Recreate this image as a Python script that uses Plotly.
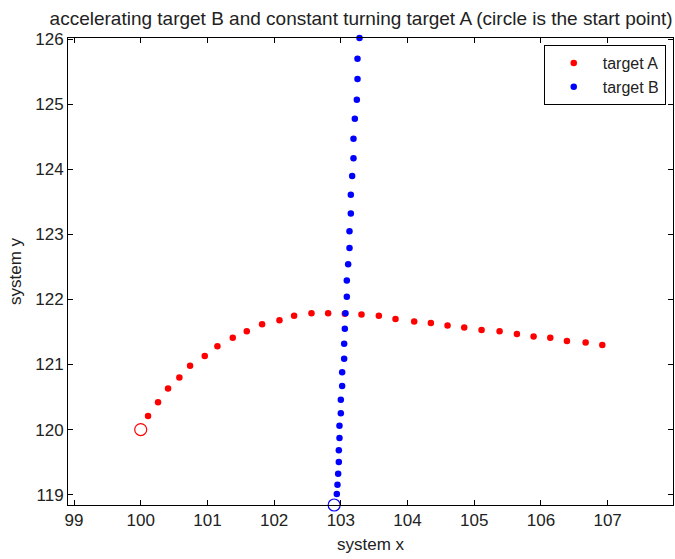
import plotly.graph_objects as go

# Target A: constant-turn track (x, y)
a_x = [100.00, 100.11, 100.26, 100.41, 100.58, 100.74, 100.96, 101.15, 101.38, 101.59,
       101.82, 102.08, 102.30, 102.56, 102.81, 103.06, 103.31, 103.57, 103.82, 104.10,
       104.35, 104.60, 104.85, 105.11, 105.38, 105.64, 105.89, 106.14, 106.39, 106.67,
       106.92]
a_y = [120.00, 120.21, 120.42, 120.63, 120.80, 120.98, 121.13, 121.28, 121.41, 121.51,
       121.62, 121.68, 121.75, 121.79, 121.79, 121.78, 121.77, 121.75, 121.70, 121.66,
       121.64, 121.60, 121.57, 121.53, 121.51, 121.47, 121.43, 121.41, 121.36, 121.34,
       121.30]

# Target B: accelerating track (x, y)
b_x = [102.90, 102.94, 102.95, 102.96, 102.97, 102.97, 102.98, 102.98, 103.00, 103.00,
       103.02, 103.02, 103.05, 103.05, 103.06, 103.07, 103.09, 103.09, 103.11, 103.13,
       103.13, 103.15, 103.15, 103.17, 103.19, 103.19, 103.21, 103.24, 103.25, 103.25,
       103.28]
b_y = [118.84, 119.01, 119.15, 119.32, 119.50, 119.68, 119.87, 120.06, 120.25, 120.46,
       120.67, 120.88, 121.09, 121.32, 121.55, 121.79, 122.04, 122.29, 122.54, 122.79,
       123.05, 123.32, 123.61, 123.90, 124.17, 124.47, 124.78, 125.07, 125.39, 125.70,
       126.02]

x_ticks = [99, 100, 101, 102, 103, 104, 105, 106, 107]
y_ticks = [119, 120, 121, 122, 123, 124, 125, 126]

FONT = "Liberation Sans, Arial, sans-serif"
RED = "rgb(255,0,0)"
BLUE = "rgb(0,0,255)"

fig = go.Figure()

fig.add_trace(go.Scatter(
    x=a_x[1:], y=a_y[1:], mode="markers", name="target A",
    marker=dict(symbol="circle", size=6.5, color=RED), cliponaxis=False,
))
fig.add_trace(go.Scatter(
    x=b_x[1:], y=b_y[1:], mode="markers", name="target B",
    marker=dict(symbol="circle", size=6.5, color=BLUE), cliponaxis=False,
))
# start points drawn as open circles
fig.add_trace(go.Scatter(
    x=[a_x[0]], y=[a_y[0]], mode="markers", showlegend=False,
    marker=dict(symbol="circle-open", size=12, color=RED, line=dict(width=1.2)),
    cliponaxis=False,
))
fig.add_trace(go.Scatter(
    x=[b_x[0]], y=[b_y[0]], mode="markers", showlegend=False,
    marker=dict(symbol="circle-open", size=12, color=BLUE, line=dict(width=1.2)),
    cliponaxis=False,
))

axis_common = dict(
    showgrid=False, zeroline=False, showline=True, linecolor="black", linewidth=1,
    mirror="allticks", ticks="inside", ticklen=5, tickcolor="black", tickwidth=1,
    tickfont=dict(family=FONT, size=17, color="#222"),
)

fig.update_layout(
    width=675, height=559,
    margin=dict(l=68, r=2, t=38, b=54),
    paper_bgcolor="white", plot_bgcolor="white",
    title=dict(
        text="accelerating target B and constant turning target A (circle is the start point)",
        font=dict(family=FONT, size=19, color="#222"),
        x=0.535, xanchor="center", y=0.968, yanchor="middle",
    ),
    xaxis=dict(
        range=[98.91, 107.98], tickvals=x_ticks, ticktext=[str(v) for v in x_ticks],
        title=dict(text="system x", font=dict(family=FONT, size=17, color="#222"), standoff=8),
        **axis_common,
    ),
    yaxis=dict(
        range=[118.84, 126.02], tickvals=y_ticks, ticktext=[str(v) for v in y_ticks],
        title=dict(text="system y", font=dict(family=FONT, size=17, color="#222"), standoff=9),
        **axis_common,
    ),
    legend=dict(
        x=0.988, xanchor="right", y=0.985, yanchor="top",
        bgcolor="white", bordercolor="black", borderwidth=1,
        font=dict(family=FONT, size=16, color="#222"),
        itemwidth=48, tracegroupgap=0,
    ),
)

fig.write_html("out.html")
